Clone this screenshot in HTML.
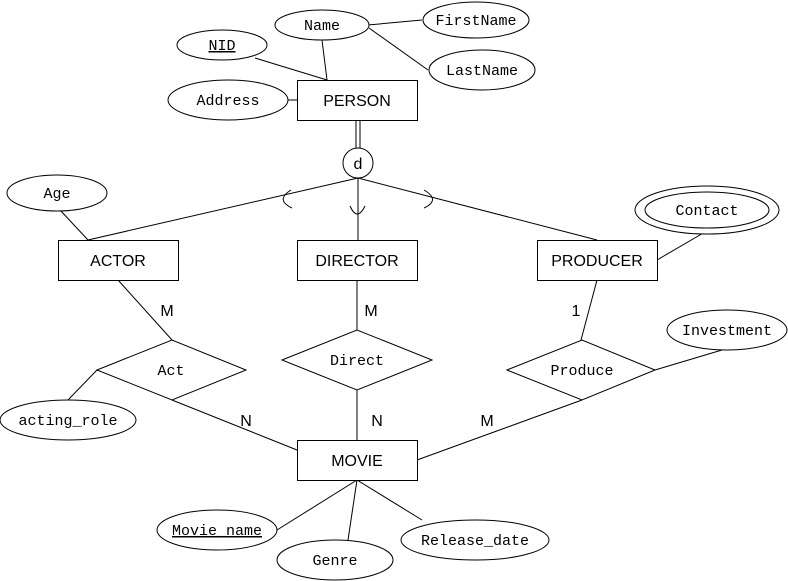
<!DOCTYPE html>
<html><head><style>body{margin:0;background:#fff}svg{display:block}</style></head><body>
<svg width="788" height="581" viewBox="0 0 788 581" xmlns="http://www.w3.org/2000/svg">
<g stroke="#000" stroke-width="1" fill="none">
<line x1="255" y1="58" x2="327" y2="80"/>
<line x1="322" y1="40" x2="327" y2="80"/>
<line x1="368" y1="25" x2="422" y2="20"/>
<line x1="369" y1="28" x2="428" y2="70"/>
<line x1="288" y1="100" x2="297" y2="100"/>
<line x1="356" y1="120" x2="356" y2="148"/>
<line x1="360" y1="120" x2="360" y2="148"/>
<line x1="358" y1="178" x2="88" y2="240"/>
<line x1="358" y1="178" x2="358" y2="240"/>
<line x1="358" y1="178" x2="597" y2="240"/>
<path d="M291,190 Q275,200 292,208"/>
<path d="M350,206 Q357,222 365,206"/>
<path d="M424,190 Q441,200 424,208"/>
<line x1="60" y1="210" x2="88" y2="240"/>
<line x1="657" y1="260" x2="705" y2="232"/>
<line x1="118" y1="280" x2="172" y2="340"/>
<line x1="97" y1="370" x2="68" y2="400"/>
<line x1="172" y1="400" x2="297" y2="450"/>
<line x1="357" y1="280" x2="357" y2="330"/>
<line x1="357" y1="390" x2="357" y2="440"/>
<line x1="597" y1="280" x2="581" y2="340"/>
<line x1="582" y1="400" x2="417" y2="460"/>
<line x1="655" y1="370" x2="722" y2="350"/>
<line x1="277" y1="530" x2="357" y2="480"/>
<line x1="348" y1="540" x2="357" y2="480"/>
<line x1="422" y1="520" x2="357" y2="480"/>
</g>
<g stroke="#000" stroke-width="1" fill="#fff">
<rect x="297.5" y="80.5" width="120" height="40"/>
<rect x="58.5" y="240.5" width="120" height="40"/>
<rect x="297.5" y="240.5" width="120" height="40"/>
<rect x="537.5" y="240.5" width="120" height="40"/>
<rect x="297.5" y="440.5" width="120" height="40"/>
<circle cx="358" cy="163" r="15"/>
<ellipse cx="228" cy="100" rx="60" ry="20"/>
<ellipse cx="222" cy="45" rx="45" ry="15"/>
<ellipse cx="322" cy="25" rx="47" ry="15"/>
<ellipse cx="476" cy="20" rx="53" ry="18"/>
<ellipse cx="482" cy="70" rx="53" ry="20"/>
<ellipse cx="57" cy="193" rx="50" ry="18"/>
<ellipse cx="707" cy="210" rx="72" ry="24"/>
<ellipse cx="707" cy="210" rx="62" ry="18"/>
<polygon points="97,370 172,340 246,370 172,400"/>
<polygon points="282,360 357,330 432,360 357,390"/>
<polygon points="507,370 582,340 655,370 582,400"/>
<ellipse cx="68" cy="420" rx="68" ry="20"/>
<ellipse cx="727" cy="330" rx="60" ry="20"/>
<ellipse cx="217" cy="530" rx="60" ry="20"/>
<ellipse cx="335" cy="560" rx="58" ry="20"/>
<ellipse cx="475" cy="540" rx="74" ry="20"/>
</g>
<g font-family="'Liberation Sans',sans-serif" font-size="16" text-anchor="middle" fill="#000">
<text x="357" y="106">PERSON</text>
<text x="118" y="266">ACTOR</text>
<text x="357" y="266">DIRECTOR</text>
<text x="597" y="266">PRODUCER</text>
<text x="357" y="466">MOVIE</text>
<text x="358" y="169">d</text>
<text x="167" y="316">M</text>
<text x="371" y="316">M</text>
<text x="576" y="316">1</text>
<text x="246" y="426">N</text>
<text x="377" y="426">N</text>
<text x="487" y="426">M</text>
</g>
<g font-family="'Liberation Mono',monospace" font-size="15" text-anchor="middle" fill="#000">
<text x="228" y="105">Address</text>
<text x="222" y="50" text-decoration="underline">NID</text>
<text x="322" y="30">Name</text>
<text x="476" y="25">FirstName</text>
<text x="482" y="75">LastName</text>
<text x="57" y="198">Age</text>
<text x="707" y="215">Contact</text>
<text x="171" y="375">Act</text>
<text x="357" y="365">Direct</text>
<text x="582" y="375">Produce</text>
<text x="68" y="425">acting_role</text>
<text x="727" y="335">Investment</text>
<text x="217" y="535" text-decoration="underline">Movie_name</text>
<text x="335" y="565">Genre</text>
<text x="475" y="545">Release_date</text>
</g>
</svg>
</body></html>
